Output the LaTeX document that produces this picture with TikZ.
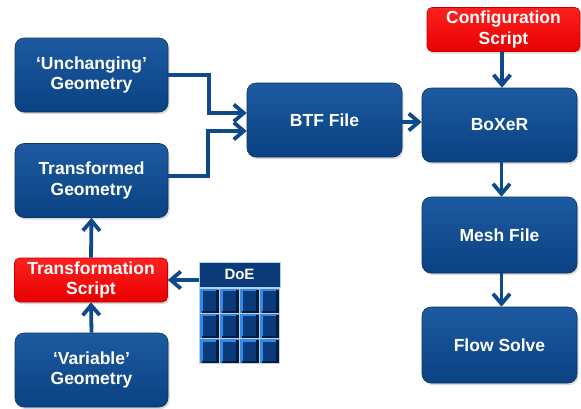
\documentclass[tikz,border=0pt]{standalone}
\usepackage{fontspec}
\setmainfont{Liberation Sans}
\usetikzlibrary{arrows.meta,shadows,calc}
\definecolor{bxtop}{HTML}{1D5AA0}
\definecolor{bxbot}{HTML}{0A4283}
\definecolor{rdtop}{HTML}{FF2020}
\definecolor{rdbot}{HTML}{E80000}
\definecolor{arcol}{HTML}{0C4A8C}
\definecolor{doenavy}{HTML}{0B3A78}
\definecolor{cellbright}{HTML}{2F8CEB}
\definecolor{celldark}{HTML}{0A3A7A}
\definecolor{cellshade}{HTML}{041C40}
\definecolor{gridgap}{HTML}{C4CEDE}
\begin{document}
\begin{tikzpicture}[x=1pt,y=-1pt,
  box/.style={rounded corners=9pt, top color=bxtop, bottom color=bxbot,
    draw=bxbot!80!black, line width=0.6pt, minimum width=153pt,
    minimum height=74pt, text=white, align=center, inner sep=0pt,
    font=\fontsize{17.5}{20.5}\selectfont\bfseries,
    drop shadow={shadow xshift=1.5pt,shadow yshift=-2pt,opacity=0.3}},
  redbox/.style={box, rounded corners=5pt, top color=rdtop, bottom color=rdbot,
    draw=rdbot!85!black, minimum height=44pt},
  doehead/.style={fill=doenavy, draw=white!60!cellbright, line width=0.8pt,
    minimum width=81pt, minimum height=25pt, inner sep=0pt, text=white,
    font=\fontsize{15}{18}\selectfont\bfseries},
  arr/.style={draw=arcol, line width=3.8pt,
    -{Straight Barb[length=10pt,width=17pt]}},
]
\useasboundingbox (0,0) rectangle (581,408);

% left column
\node[box] (unch) at (91.5,75) {‘Unchanging’\\Geometry};
\node[box] (trans) at (91.5,180.5) {Transformed\\Geometry};
\node[redbox] (tscript) at (91,280) {Transformation\\Script};
\node[box] (var) at (91.5,370) {‘Variable’\\Geometry};

% middle
\node[box, minimum width=155pt] (btf) at (324.5,120) {BTF File};

% right column
\node[redbox] (config) at (503.5,29.5) {Configuration\\Script};
\node[box, minimum width=155pt] (boxer) at (499.5,125) {BoXeR};
\node[box, minimum width=155pt, minimum height=76pt] (mesh) at (499.5,235) {Mesh File};
\node[box, minimum width=155pt, minimum height=76pt] (flow) at (499.5,345) {Flow Solve};

% DoE table
\node[doehead] (doe) at (239.5,274.5) {DoE};
\fill[gridgap] (199,288) rectangle (280,364);
\foreach \i in {0,...,3} {
  \foreach \j in {0,1,2} {
    \pgfmathsetmacro{\xa}{199+\i*20.25+0.6}
    \pgfmathsetmacro{\ya}{288+\j*25.33+0.6}
    \pgfmathsetmacro{\xb}{\xa+19.05}
    \pgfmathsetmacro{\yb}{\ya+24.13}
    \fill[cellbright] (\xa,\ya) rectangle (\xb,\yb);
    \fill[cellshade] (\xb-3,\ya+1) rectangle (\xb,\yb);
    \fill[cellshade] (\xa+2,\yb-2) rectangle (\xb,\yb);
    \fill[celldark] (\xa+3,\ya+2.5) rectangle (\xb-3,\yb-2);
  }
}

% connectors
\draw[arr] (unch.east) -- ++(41,0) |- ([yshift=7pt]btf.west);
\draw[arr] ([yshift=4.5pt]trans.east) -- ++(40,0) |- ([yshift=-11pt]btf.west);
\draw[arr] (tscript.north) -- (trans.south);
\draw[arr] (var.north) -- (tscript.south);
\draw[arr] (doe.west |- tscript.east) -- (tscript.east);
\coordinate (bo) at ([yshift=-2pt]btf.east);
\draw[arr] (bo) -- (bo -| boxer.west);
\draw[arr] ([xshift=-1.5pt]config.south) -- ([xshift=-1.5pt]config.south |- boxer.north);
\draw[arr] ([xshift=2pt]boxer.south) -- ([xshift=2pt]mesh.north);
\draw[arr] ([xshift=2pt]mesh.south) -- ([xshift=2pt]flow.north);
\end{tikzpicture}
\end{document}
